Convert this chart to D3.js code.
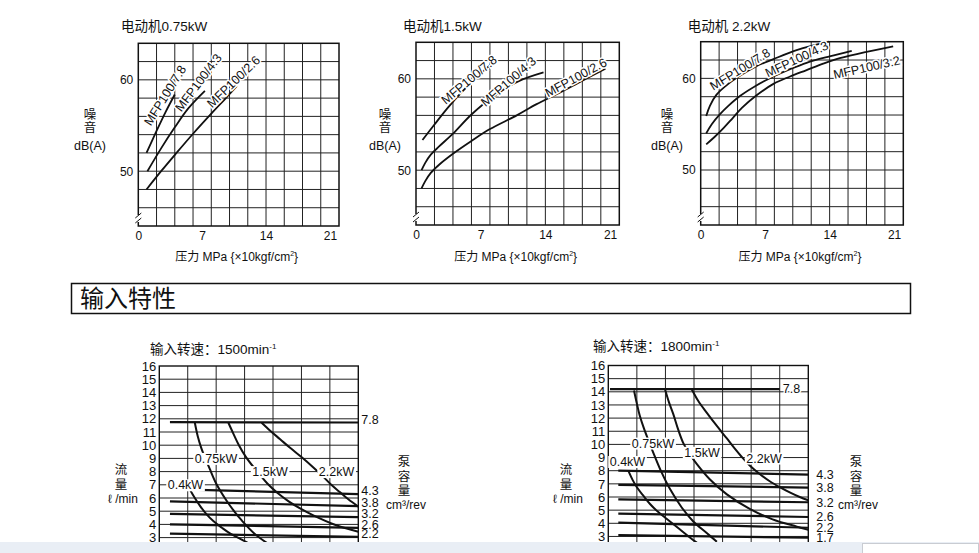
<!DOCTYPE html>
<html><head><meta charset="utf-8">
<script src="https://cdn.jsdelivr.net/npm/d3@7"></script>
<style>
html,body{margin:0;padding:0;background:#fff;overflow:hidden}
svg{display:block}
</style></head><body>
<svg id="c" width="979" height="553"></svg>
<script>
// ================= DATA =================
const pressureTicks = [0, 7, 14, 21];
const noiseTicks = [50, 60];
const motorTitles = ["电动机0.75kW", "电动机1.5kW", "电动机 2.2kW"];
const models075 = ["MFP100/7.8", "MFP100/4.3", "MFP100/2.6"];
const models15  = ["MFP100/7.8", "MFP100/4.3", "MFP100/2.6"];
const models22  = ["MFP100/7.8", "MFP100/4.3", "MFP100/3.2"];

// noise dB(A) vs pressure MPa
const noise075_78 = [[0.9,52.0],[2.0,54.4],[3.0,56.5],[4.0,58.4]];
const noise075_43 = [[1.0,50.0],[2.5,52.5],[4.0,54.8],[5.5,56.9],[7.3,58.8]];
const noise075_26 = [[0.9,48.0],[2.5,50.0],[4.1,51.9],[6.0,54.1],[8.0,56.3],[9.5,57.9],[10.8,59.3]];
const noise15_78 = [[0.7,53.3],[2.0,55.0],[3.5,56.9],[5.0,58.6],[6.8,60.4],[8.7,62.1]];
const noise15_43 = [[0.6,50.0],[1.0,50.8],[1.6,51.7],[2.5,52.6],[4.0,54.0],[6.0,56.1],[8.4,58.1],[11.0,59.7],[13.8,60.7]];
const noise15_26 = [[0.6,48.0],[1.0,48.8],[1.6,49.7],[2.5,50.6],[4.0,51.8],[6.0,53.2],[8.0,54.5],[10.9,56.0],[13.0,57.2],[15.6,58.5],[18.0,59.8],[20.5,61.1]];
const noise22_78 = [[0.6,55.9],[1.0,57.0],[1.7,58.2],[3.0,59.4],[4.3,60.3],[6.0,61.3],[7.9,62.1],[10.5,63.1],[13.9,64.0]];
const noise22_43 = [[0.6,54.0],[1.2,55.0],[2.1,56.1],[3.0,57.0],[4.3,58.1],[6.0,59.2],[7.9,60.2],[9.7,61.0],[11.5,61.7],[14.0,62.4],[16.4,63.0]];
const noise22_32 = [[0.6,52.8],[1.5,53.6],[2.5,54.6],[3.5,55.7],[4.5,56.8],[6.0,58.1],[7.9,59.4],[9.7,60.2],[11.5,60.9],[13.3,61.6],[15.1,62.2],[18.0,62.9],[20.9,63.5]];
// label anchor [pressure, dB, angle]
const labelAt075 = [[2.93,58.3,-58],[6.58,59.7,-53],[10.42,59.8,-44]];
const labelAt15  = [[5.74,59.9,-40],[9.99,59.7,-41],[17.29,60.15,-28.5]];
const labelAt22  = [[4.27,61.0,-31.7],[10.42,62.1,-25.3],[18.02,61.2,-12.7]];

// input characteristics
const flowTicks = [3,4,5,6,7,8,9,10,11,12,13,14,15,16];
const disp1500 = ["7.8","4.3","3.8","3.2","2.6","2.2"];
const flow1500From = [0.75,0.75,0.75,0.75,0.75,0.75];
const flow1500To   = [14,14,14,14,14,14];
const flow1500Start = [11.75,6.67,5.75,4.80,4.00,3.30];
const flow1500End   = [11.72,6.30,5.38,4.55,3.74,3.06];
const disp1800 = ["7.8","4.3","3.8","3.2","2.6","2.2","1.7"];
const flow1800From = [0.12,0.7,0.7,0.7,0.7,0.7,0.7];
const flow1800To   = [12.0,14,14,14,14,14,14];
const flow1800Start = [14.2,8.0,6.92,5.82,4.74,4.05,3.10];
const flow1800End   = [14.2,7.7,6.72,5.60,4.48,3.66,2.90];

const powerNames = ["0.4kW","0.75kW","1.5kW","2.2kW"];
const pw04_1500  = [[2.15,6.65],[2.5,6.0],[2.9,5.35],[3.3,4.8],[3.8,4.25],[4.4,3.75],[5.0,3.3],[5.7,2.9],[6.4,2.5],[7.2,2.1]];
const pw075_1500 = [[2.5,11.7],[2.7,10.7],[2.95,9.8],[3.2,9.1],[3.55,8.2],[4.0,7.1],[4.7,5.85],[5.3,4.95],[5.8,4.3],[6.7,3.3],[7.7,2.5],[8.6,1.9]];
const pw15_1500  = [[4.86,11.7],[5.2,10.9],[5.6,10.0],[6.1,9.1],[6.7,8.25],[7.6,7.1],[8.3,6.4],[9.1,5.75],[10.0,5.15],[10.8,4.7],[12.4,3.95],[14.0,3.45]];
const pw22_1500  = [[7.2,11.7],[7.8,11.1],[8.5,10.45],[9.2,9.8],[10.0,9.1],[10.8,8.35],[11.5,7.65],[12.1,7.0],[12.7,6.45],[13.3,5.9],[14.0,5.35]];
const pw04_1800  = [[1.4,8.0],[1.7,7.3],[2.0,6.74],[2.45,6.1],[2.92,5.47],[3.5,4.85],[4.1,4.33],[5.0,3.55],[5.8,2.85],[6.5,2.3]];
const pw075_1800 = [[1.8,14.1],[2.0,13.1],[2.2,12.2],[2.5,11.2],[2.85,10.2],[3.27,9.05],[3.74,7.85],[4.32,6.6],[5.14,5.2],[5.95,4.14],[6.89,3.26],[7.6,2.6]];
const pw15_1800  = [[3.97,14.2],[4.25,13.2],[4.55,12.3],[4.9,11.1],[5.25,10.1],[5.7,9.25],[6.2,8.5],[7.1,7.35],[8.3,6.2],[9.9,5.1],[11.5,4.3],[13.2,3.75],[14.0,3.5]];
const pw22_1800  = [[5.84,14.2],[6.3,13.3],[6.9,12.4],[7.6,11.4],[8.3,10.45],[8.8,9.75],[9.3,9.1],[9.9,8.4],[10.6,7.75],[11.3,7.2],[12.0,6.75],[12.7,6.35],[13.4,6.0],[14.0,5.75]];
// label anchors [pressure, flow]
const pwLabel1500 = [[1.84,7.0],[3.99,9.0],[7.79,8.0],[12.47,8.0]];
const pwLabel1800 = [[1.34,8.7],[3.13,10.1],[6.56,9.4],[10.9,8.96]];

// ================= DRAW =================
const FONT = "'Liberation Sans','Noto Sans CJK SC',sans-serif";
const svg = d3.select("#c");
svg.append("rect").attr("width",979).attr("height",553).attr("fill","#fff");

function txt(g, x, y, s, size, anchor) {
  return g.append("text").attr("x",x).attr("y",y).attr("font-family",FONT)
    .attr("font-size",size).attr("text-anchor",anchor||"start").attr("fill","#111").text(s);
}

function noiseChart(o) {
  const x = d3.scaleLinear().domain([0,22]).range([o.x0,o.x1]);
  const y = d3.scaleLinear().domain([44,64]).range([o.yB,o.yT]);
  const g = svg.append("g");
  g.selectAll("line.v").data(d3.range(2,22,2)).join("line")
    .attr("x1",d=>x(d)).attr("x2",d=>x(d)).attr("y1",y(44)).attr("y2",y(64))
    .attr("stroke","#222").attr("stroke-width",1);
  g.selectAll("line.h").data(d3.range(46,64,2)).join("line")
    .attr("x1",x(0)).attr("x2",x(22)).attr("y1",d=>y(d)).attr("y2",d=>y(d))
    .attr("stroke","#222").attr("stroke-width",1);
  g.append("rect").attr("x",x(0)).attr("y",y(64)).attr("width",x(22)-x(0)).attr("height",y(44)-y(64))
    .attr("fill","none").attr("stroke","#111").attr("stroke-width",1.5);
  // break mark
  const yb = y(44) - 8;
  g.append("rect").attr("x",x(0)-2).attr("y",yb-3).attr("width",4).attr("height",7).attr("fill","#fff");
  [-2.5,2.5].forEach(dd=>{
    g.append("line").attr("x1",x(0)-3).attr("y1",yb+dd+2.5).attr("x2",x(0)+3).attr("y2",yb+dd-2.5)
      .attr("stroke","#111").attr("stroke-width",1);
  });
  // axes
  const ax = g.append("g").attr("transform",`translate(0,${y(44)})`)
    .call(d3.axisBottom(x).tickValues(pressureTicks).tickSize(0).tickPadding(5));
  ax.select(".domain").remove();
  ax.selectAll("text").attr("font-family",FONT).attr("font-size",12).attr("fill","#111");
  const ay = g.append("g").attr("transform",`translate(${x(0)},0)`)
    .call(d3.axisLeft(y).tickValues(noiseTicks).tickSize(0).tickPadding(5));
  ay.select(".domain").remove();
  ay.selectAll("text").attr("font-family",FONT).attr("font-size",12).attr("fill","#111");
  // curves
  const line = d3.line().x(d=>x(d[0])).y(d=>y(d[1])).curve(d3.curveCatmullRom.alpha(0.5));
  o.curves.forEach(c=>{
    g.append("path").attr("d",line(c)).attr("fill","none").attr("stroke","#111").attr("stroke-width",1.8);
  });
  // labels
  o.labels.forEach((l,i)=>{
    g.append("text").attr("transform",`translate(${x(l[0])},${y(l[1])}) rotate(${l[2]})`)
      .attr("text-anchor","middle").attr("dy","0.35em").attr("font-family",FONT).attr("font-size",12.5)
      .attr("fill","#111").attr("stroke","#fff").attr("stroke-width",3).attr("paint-order","stroke")
      .text(o.models[i]);
  });
  // titles
  txt(g, o.titleX, 31, o.title, 13.5);
  txt(g, o.ylabX, 119, "噪", 12.5, "middle");
  txt(g, o.ylabX, 131.5, "音", 12.5, "middle");
  txt(g, o.ylabX, 149.5, "dB(A)", 12.5, "middle");
  const t = g.append("text").attr("x",(o.x0+o.x1)/2 - 2).attr("y",261).attr("text-anchor","middle")
    .attr("font-family",FONT).attr("font-size",12).attr("fill","#111");
  t.append("tspan").text("压力 MPa  {×10kgf/cm");
  t.append("tspan").attr("font-size",7).attr("dy",-5).text("2");
  t.append("tspan").attr("dy",5).text("}");
}

noiseChart({x0:138.3,x1:339,yB:226,yT:43.3,title:motorTitles[0],titleX:121,ylabX:90,
  curves:[noise075_78,noise075_43,noise075_26],models:models075,labels:labelAt075});
noiseChart({x0:416,x1:619.3,yB:225,yT:42.3,title:motorTitles[1],titleX:403,ylabX:385,
  curves:[noise15_78,noise15_43,noise15_26],models:models15,labels:labelAt15});
noiseChart({x0:700.7,x1:903.3,yB:225,yT:41.7,title:motorTitles[2],titleX:687.7,ylabX:667,
  curves:[noise22_78,noise22_43,noise22_32],models:models22,labels:labelAt22});

// section box
svg.append("rect").attr("x",71.5).attr("y",283.5).attr("width",839).attr("height",30)
  .attr("fill","none").attr("stroke","#111").attr("stroke-width",1.5);
txt(svg, 80, 306.5, "输入特性", 24);

function flowChart(o) {
  const x = d3.scaleLinear().domain([0,14]).range([o.left,o.right]);
  const y = d3.scaleLinear().domain([0,16]).range([o.y0,o.y16]);
  const g = svg.append("g");
  g.selectAll("line.v").data(d3.range(2,14,2)).join("line")
    .attr("x1",d=>x(d)).attr("x2",d=>x(d)).attr("y1",y(16)).attr("y2",y(0))
    .attr("stroke","#222").attr("stroke-width",1);
  g.selectAll("line.h").data(d3.range(1,16)).join("line")
    .attr("x1",x(0)).attr("x2",x(14)).attr("y1",d=>y(d)).attr("y2",d=>y(d))
    .attr("stroke","#222").attr("stroke-width",1);
  g.append("rect").attr("x",x(0)).attr("y",y(16)).attr("width",x(14)-x(0)).attr("height",y(0)-y(16))
    .attr("fill","none").attr("stroke","#111").attr("stroke-width",1.4);
  const ay = g.append("g").attr("transform",`translate(${x(0)},0)`)
    .call(d3.axisLeft(y).tickValues(flowTicks).tickSize(0).tickPadding(3));
  ay.select(".domain").remove();
  ay.selectAll("text").attr("font-family",FONT).attr("font-size",13).attr("fill","#111");
  // displacement flow lines
  o.disp.forEach((d,i)=>{
    g.append("line").attr("x1",x(o.from[i])).attr("x2",x(o.to[i]))
      .attr("y1",y(o.start[i])).attr("y2",y(o.end[i]))
      .attr("stroke","#111").attr("stroke-width",2.2);
    const lx = i===0 && o.inner ? x(o.to[i]) + 3 : x(14) + o.gap;
    const t = txt(g, lx, y(o.end[i]) + o.dyLab, d, 12.5);
    t.attr("dominant-baseline","middle");
    if (i===0 && o.inner) t.attr("stroke","#fff").attr("stroke-width",3).attr("paint-order","stroke");
  });
  // power curves
  const line = d3.line().x(d=>x(d[0])).y(d=>y(d[1])).curve(d3.curveCatmullRom.alpha(0.5));
  o.curves.forEach(c=>{
    g.append("path").attr("d",line(c)).attr("fill","none").attr("stroke","#111").attr("stroke-width",2);
  });
  o.labels.forEach((l,i)=>{
    const t = g.append("text").attr("x",x(l[0])).attr("y",y(l[1])).attr("text-anchor","middle")
      .attr("dy","0.36em").attr("font-family",FONT).attr("font-size",12.5).attr("fill","#111").text(powerNames[i]);
    const b = t.node().getBBox();
    g.insert("rect", () => t.node()).attr("x",b.x-1.5).attr("y",b.y+1).attr("width",b.width+3).attr("height",b.height-2).attr("fill","#fff");
  });
  // headings
  const h = g.append("text").attr("x",o.headX).attr("y",o.headY).attr("font-family",FONT)
    .attr("font-size",13.5).attr("fill","#111");
  h.append("tspan").text(o.head);
  h.append("tspan").attr("font-size",8).attr("dy",-5).text("-1");
  txt(g, o.lx, 474, "流", 12.5, "middle");
  txt(g, o.lx, 488.5, "量", 12.5, "middle");
  txt(g, o.lx + 2, 503, "ℓ /min", 12, "middle");
  txt(g, o.rx, 465.5, "泵", 12.5, "middle");
  txt(g, o.rx, 480.5, "容", 12.5, "middle");
  txt(g, o.rx, 495, "量", 12.5, "middle");
  txt(g, o.rx + 2, 509, "cm³/rev", 12, "middle");
}

flowChart({left:159.3,right:358.3,y16:366,y0:366+16*13.2,disp:disp1500,from:flow1500From,to:flow1500To,
  start:flow1500Start,end:flow1500End,gap:3,dyLab:-2,inner:false,
  curves:[pw04_1500,pw075_1500,pw15_1500,pw22_1500],labels:pwLabel1500,
  head:"输入转速：1500min",headX:150,headY:354,lx:121,rx:404});
flowChart({left:608.3,right:808.3,y16:365.5,y0:365.5+16*13.15,disp:disp1800,from:flow1800From,to:flow1800To,
  start:flow1800Start,end:flow1800End,gap:8,dyLab:1,inner:true,
  curves:[pw04_1800,pw075_1800,pw15_1800,pw22_1800],labels:pwLabel1800,
  head:"输入转速：1800min",headX:593,headY:351,lx:566,rx:856});

// browser status strip at bottom
svg.append("rect").attr("x",0).attr("y",542).attr("width",979).attr("height",11).attr("fill","#e9eef5");
svg.append("rect").attr("x",862.5).attr("y",543.5).attr("width",116).attr("height",10).attr("fill","#fff").attr("stroke","#c9ccd2");
</script>
</body></html>
